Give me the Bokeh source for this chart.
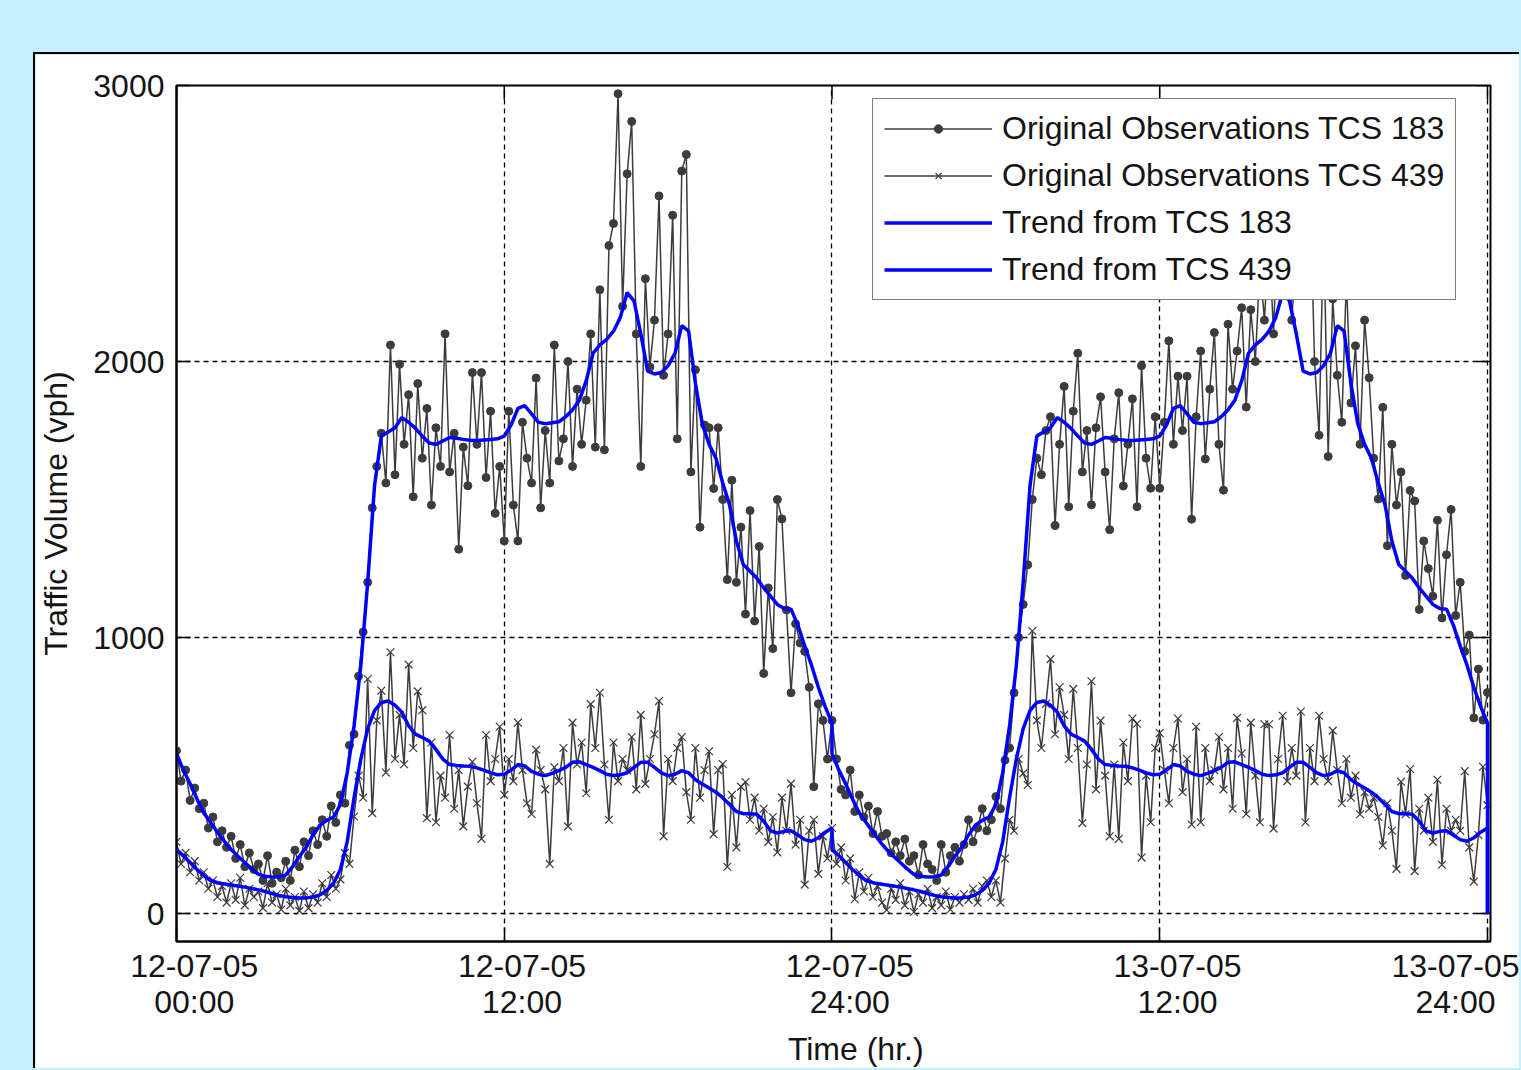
from bokeh.plotting import figure
from bokeh.models import Range1d, FixedTicker, GlobalInlineStyleSheet
from bokeh.embed import file_html
from bokeh.resources import INLINE

# ---------------- data ----------------
# 10-minute observations, TCS 183 (one row per hour, 0h .. 47h, then 48h)
obs_183 = [
    590, 480, 520, 410, 455, 380,
    400, 310, 350, 260, 300, 240,
    280, 200, 250, 170, 220, 160,
    180, 120, 210, 110, 150, 130,
    190, 120, 230, 170, 260, 210,
    300, 250, 340, 280, 390, 330,
    430, 400, 610, 650, 860, 1020,
    1200, 1470, 1620, 1740, 1560, 2060,
    1590, 1990, 1700, 1880, 1510, 1920,
    1650, 1830, 1480, 1760, 1620, 2100,
    1600, 1740, 1320, 1690, 1550, 1960,
    1700, 1960, 1580, 1820, 1450, 1620,
    1350, 1820, 1480, 1350, 1780, 1650,
    1560, 1940, 1470, 1750, 1560, 2060,
    1640, 1720, 2000, 1620, 1900, 1700,
    1860, 2100, 1690, 2260, 1680, 2420,
    2500, 2970, 2200, 2680, 2870, 2100,
    1620, 2300, 1980, 2150, 2600, 1950,
    2100, 2530, 1720, 2690, 2750, 1600,
    1970, 1400, 1770, 1760, 1540, 1760,
    1500, 1210, 1570, 1200, 1400, 1085,
    1460, 1060, 1330, 870, 1180, 960,
    1500, 1430, 1100, 800, 1050, 980,
    950, 820, 460, 760, 700, 560,
    700, 560, 450, 430, 520, 370,
    430, 350, 390, 290, 370, 280,
    290, 220, 260, 210, 270, 190,
    210, 140, 250, 180, 160, 120,
    250, 150, 210, 240, 190, 250,
    340, 260, 310, 380, 300, 340,
    424, 380, 556, 600, 800, 1000,
    1120, 1264, 1500, 1650, 1590, 1750,
    1800, 1406, 1700, 1910, 1474, 1820,
    2030, 1600, 1750, 1481, 1760, 1872,
    1600, 1391, 1720, 1887, 1549, 1700,
    1865, 1474, 1985, 1650, 1541, 1800,
    1541, 1780, 2075, 1700, 1947, 1750,
    1947, 1429, 1800, 2038, 1647, 1900,
    2105, 1700, 1534, 2135, 1900, 2038,
    2195, 1835, 2188, 2000, 2350, 2150,
    2450, 2100, 2600, 2250, 2700, 2150,
    2400, 2900, 2300, 2650, 2000, 1733,
    2500, 1656, 2227, 1950, 1780, 2300,
    1850, 2057, 1700, 2150, 1941, 1650,
    1502, 1834, 1333, 1700, 1480, 1600,
    1225, 1533, 1495, 1102, 1350, 1250,
    1150, 1425, 1071, 1300, 1464, 1080,
    1200, 950, 1009, 709, 886, 701,
    801,
]

# 10-minute observations, TCS 439
obs_439 = [
    260, 180, 220, 150, 190, 120,
    150, 90, 120, 60, 100, 40,
    110, 50, 130, 30, 90, 60,
    80, 20, 110, 40, 70, 15,
    90, 30, 60, 10, 80, 20,
    70, 40, 110, 60, 140, 90,
    124, 220, 180, 352, 500, 420,
    850, 364, 700, 808, 511, 947,
    560, 720, 541, 902, 600, 805,
    737, 346, 620, 331, 500, 420,
    647, 380, 520, 316, 460, 550,
    400, 271, 647, 480, 560, 677,
    430, 560, 480, 692, 520, 400,
    361, 594, 520, 450, 180, 530,
    480, 600, 316, 692, 540, 620,
    436, 759, 600, 800, 540, 340,
    620, 480, 560, 520, 640, 450,
    720, 470, 560, 650, 770, 280,
    560, 480, 600, 640, 440, 340,
    600, 420, 520, 588, 288, 520,
    542, 170, 430, 240, 460, 477,
    340, 420, 300, 380, 260, 350,
    222, 420, 300, 471, 250, 340,
    105, 300, 340, 144, 280, 200,
    310, 180, 240, 120, 200, 52,
    150, 80, 130, 60, 100, 40,
    13, 90, 50, 110, 30, 80,
    6, 70, 40, 90, 20, 60,
    30, 80, 15, 60, 40, 70,
    50, 90, 40, 100, 120, 60,
    120, 40, 200, 340, 300, 560,
    508, 466, 1024, 700, 600, 760,
    922, 650, 820, 720, 560, 814,
    600, 328, 540, 842, 450, 699,
    500, 280, 540, 271, 620, 480,
    707, 688, 203, 500, 331, 600,
    654, 520, 400, 600, 707, 440,
    560, 323, 677, 331, 600, 480,
    520, 640, 450, 600, 380, 709,
    580, 361, 692, 500, 331, 686,
    686, 308, 560, 717, 480, 600,
    500, 732, 331, 600, 480, 717,
    560, 480, 663, 520, 400, 560,
    420, 500, 360, 440, 380, 420,
    350, 247, 400, 300, 162, 478,
    360, 524, 154, 380, 300, 420,
    260, 485, 177, 380, 300, 340,
    300, 516, 240, 116, 285, 532,
    393,
]

# Daily trend (quarter-hour values, 0h .. 24h); the same trend is shown for both days
trend_183_day = [
    580, 520, 470, 415,
    365, 330, 295, 262,
    232, 208, 185, 162,
    142, 135, 133, 134,
    140, 170, 208, 240,
    285, 320, 338, 350,
    395, 510, 680, 900,
    1200, 1550, 1730, 1745,
    1760, 1797, 1780, 1758,
    1730, 1705, 1700, 1712,
    1725, 1722, 1718, 1715,
    1714, 1716, 1718, 1720,
    1730, 1770, 1830, 1840,
    1810, 1780, 1775, 1778,
    1782, 1800, 1825, 1860,
    1930, 2030, 2060, 2080,
    2110, 2160, 2250, 2220,
    2100, 1965, 1955, 1960,
    1985, 2030, 2130, 2110,
    1920, 1775, 1700, 1650,
    1560, 1480, 1350, 1265,
    1240, 1215, 1180, 1150,
    1120, 1105, 1103, 1045,
    970, 900, 820, 750,
    690,
]
trend_439_day = [
    232, 210, 185, 160,
    138, 120, 112, 107,
    104, 100, 96, 91,
    86, 80, 73, 66,
    61, 58, 57, 57,
    60, 68, 84, 110,
    160, 260, 420, 560,
    670, 735, 765, 770,
    755, 730, 680, 650,
    638, 625, 595, 560,
    540, 537, 535, 534,
    528, 520, 510, 503,
    505, 520, 540, 535,
    515, 505, 500, 508,
    518, 530, 548, 550,
    540, 530, 518, 505,
    500, 503, 510, 530,
    548, 548, 530, 510,
    500, 505, 518, 510,
    485, 470, 455, 440,
    420, 395, 370, 362,
    362, 360, 335, 300,
    292, 298, 300, 285,
    268, 262, 275, 295,
    310,
]
trend_end_value = [0]

x_tick_hours = [0, 12, 24, 36, 48]
x_tick_dates = ["12-07-05", "12-07-05", "12-07-05", "13-07-05", "13-07-05"]
x_tick_times = ["00:00", "12:00", "24:00", "12:00", "24:00"]
y_ticks = [0, 1000, 2000, 3000]

series_names = ["Original Observations TCS 183", "Original Observations TCS 439",
                "Trend from TCS 183", "Trend from TCS 439"]
x_title = "Time (hr.)"
y_title = "Traffic Volume (vph)"

# ---------------- derived ----------------
obs_hours = [i / 6 for i in range(len(obs_183))]
day_hours = [i / 4 for i in range(len(trend_183_day))]
trend_hours = day_hours + [24 + h for h in day_hours] + [48]
trend_183 = trend_183_day + trend_183_day + trend_end_value
trend_439 = trend_439_day + trend_439_day + trend_end_value

X0, X1 = 0.0, 48.11
Y0, Y1 = -101.0, 3000.0
W, H = 1486, 1016
FW, FH = 1315, 856
ML, MT = 140, 31
MR = W - ML - FW
MB = H - MT - FH

FONT = "Liberation Sans"
FS = "32px"
TXT = "#141414"
OBS = "#3c3c3c"
NB = "\u00a0"   # the original draws the date labels a little right of the tick

p = figure(width=W, height=H, x_range=Range1d(X0, X1), y_range=Range1d(Y0, Y1),
           output_backend="svg", toolbar_location=None,
           min_border_left=ML, min_border_right=MR, min_border_top=MT, min_border_bottom=MB,
           border_fill_color="white", background_fill_color="white")

p.stylesheets = [GlobalInlineStyleSheet(
    css="body { background-color: #C6EFFD; margin: 0; padding: 52px 0 0 33px; overflow: hidden; }")]
p.styles = {"border-left": "2px solid #000000", "border-top": "2px solid #000000"}

p.outline_line_color = "black"
p.outline_line_width = 2

# axes
p.xaxis.ticker = FixedTicker(ticks=x_tick_hours)
p.yaxis.ticker = FixedTicker(ticks=y_ticks)
for ax in (p.xaxis, p.yaxis):
    ax.major_tick_in = 14
    ax.major_tick_out = 0
    ax.minor_tick_line_color = None
    ax.major_tick_line_color = "black"
    ax.major_tick_line_width = 1.5
    ax.axis_line_color = "black"
    ax.axis_line_width = 2
    ax.major_label_text_font = FONT
    ax.major_label_text_font_size = FS
    ax.major_label_text_color = TXT
    ax.axis_label_text_font = FONT
    ax.axis_label_text_font_size = FS
    ax.axis_label_text_font_style = "normal"
    ax.axis_label_text_color = TXT

p.xaxis.major_label_overrides = {
    h: f"{NB * 4}{d}\n{NB * 4}{t}" for h, d, t in zip(x_tick_hours, x_tick_dates, x_tick_times)}
p.xaxis.major_label_standoff = 6
p.xaxis.major_label_text_line_height = 1.0
p.xaxis.axis_label = NB * 5 + x_title
p.xaxis.axis_label_standoff = 8

p.yaxis.major_label_standoff = 12
p.yaxis.axis_label = y_title
p.yaxis.axis_label_standoff = 16

# grid
for g in (p.xgrid, p.ygrid):
    g.grid_line_color = "black"
    g.grid_line_dash = "5 4"
    g.grid_line_width = 1.3

# inward ticks on top and right edges
tick_dy = 14 * (Y1 - Y0) / FH
tick_dx = 14 * (X1 - X0) / FW
p.segment(x0=x_tick_hours, y0=[Y1] * len(x_tick_hours), x1=x_tick_hours,
          y1=[Y1 - tick_dy] * len(x_tick_hours), line_color="black", line_width=1.5)
p.segment(x0=[X1] * len(y_ticks), y0=y_ticks, x1=[X1 - tick_dx] * len(y_ticks),
          y1=y_ticks, line_color="black", line_width=1.5)

# series
p.line(obs_hours, obs_183, line_color=OBS, line_width=1.5, legend_label=series_names[0])
p.scatter(obs_hours, obs_183, marker="circle", size=8, fill_color=OBS, line_color=OBS,
          legend_label=series_names[0])
p.line(obs_hours, obs_439, line_color=OBS, line_width=1.5, legend_label=series_names[1])
p.scatter(obs_hours, obs_439, marker="x", size=11, line_color=OBS, line_width=1.2,
          legend_label=series_names[1])
p.line(trend_hours, trend_183, line_color="#0000FF", line_width=3.5, legend_label=series_names[2])
p.line(trend_hours, trend_439, line_color="#0000FF", line_width=3.5, legend_label=series_names[3])

# legend
lg = p.legend[0]
lg.location = (696, 641)
lg.margin = 0
lg.padding = 11
lg.spacing = 10
lg.glyph_width = 108
lg.glyph_height = 21
lg.label_height = 37
lg.label_standoff = 10
lg.label_text_font = FONT
lg.label_text_font_size = FS
lg.label_text_color = TXT
lg.border_line_color = "black"
lg.border_line_width = 1.5
lg.background_fill_color = "white"
lg.background_fill_alpha = 1.0

open("out.html", "w").write(file_html(p, INLINE))
